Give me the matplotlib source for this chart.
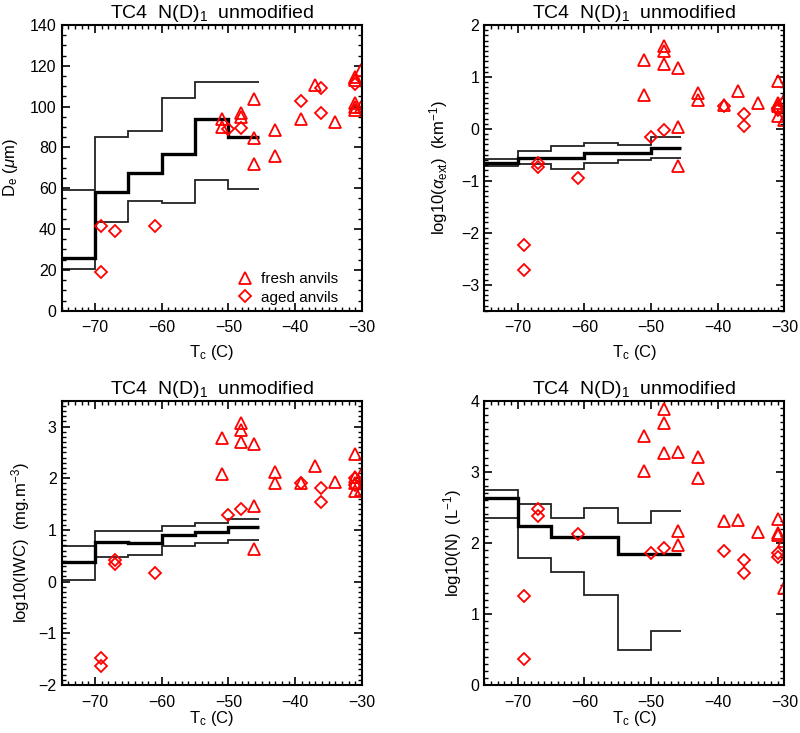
import matplotlib
matplotlib.use("Agg")
import matplotlib.pyplot as plt
from matplotlib.ticker import MultipleLocator

plt.rcParams['font.family'] = ['Liberation Sans', 'DejaVu Sans']
plt.rcParams['mathtext.fontset'] = 'custom'
plt.rcParams['mathtext.rm'] = 'Liberation Sans'
plt.rcParams['mathtext.it'] = 'Liberation Sans:italic'

# ---------------- data ----------------
bin_edges = [-75, -70, -65, -60, -55, -50, -45.5]

de_upper = [59, 85.3, 88, 104, 112.3, 112.3]
de_median = [25.7, 58, 67.3, 76.8, 94.1, 85]
de_lower = [20.3, 43.6, 53.8, 52.6, 64, 59.5]
de_fresh_t = [-46.1, -48.1, -48.1, -51.0, -51.0, -46.1, -46.1, -43.1, -43.1, -39.1,
              -37.1, -34.1, -31.1, -31.1, -31.1, -31.1, -31.1, -30.1, -30.1]
de_fresh = [103.8, 96.7, 94.8, 93.8, 89.9, 84.5, 71.9, 88.6, 75.8, 93.8,
            110.6, 92.6, 114.7, 113.1, 101.6, 100, 98.4, 118, 100]
de_aged_t = [-69.1, -69.1, -67.0, -61.0, -50.1, -48.1, -39.1, -36.1, -36.1, -31.1]
de_aged = [41.7, 18.8, 38.9, 41.7, 89.1, 89.4, 102.9, 109, 97.1, 111.1]

ext_upper = [-0.583, -0.423, -0.327, -0.263, -0.308, -0.160]
ext_median = [-0.647, -0.564, -0.564, -0.455, -0.468, -0.359]
ext_lower = [-0.712, -0.673, -0.769, -0.647, -0.596, -0.551]
ext_fresh_t = [-51.0, -51.0, -48.0, -48.0, -48.0, -46.0, -46.0, -46.0, -43.0, -43.0,
               -39.0, -37.0, -34.0, -31.0, -31.0, -31.0, -31.0, -30.1, -30.1]
ext_fresh = [1.327, 0.654, 1.596, 1.5, 1.244, 1.167, 0.045, -0.705, 0.699, 0.558,
             0.462, 0.731, 0.494, 0.923, 0.506, 0.442, 0.25, 0.56, 0.17]
ext_aged_t = [-69.0, -69.0, -67.0, -67.0, -61.0, -50.0, -48.0, -39.0, -36.0, -36.0, -31.0, -31.0]
ext_aged = [-2.231, -2.724, -0.66, -0.737, -0.936, -0.147, -0.019, 0.442, 0.282, 0.064, 0.41, 0.36]

iwc_upper = [0.682, 0.971, 0.98, 1.08, 1.13, 1.215]
iwc_median = [0.386, 0.759, 0.746, 0.894, 0.952, 1.055]
iwc_lower = [0.039, 0.469, 0.508, 0.695, 0.746, 0.797]
iwc_fresh_t = [-51.0, -51.0, -48.1, -48.1, -48.1, -46.1, -46.1, -46.1, -43.1, -43.1,
               -39.1, -37.1, -34.1, -31.1, -31.1, -31.1, -31.1, -30.1, -30.1]
iwc_fresh = [2.772, 2.077, 3.074, 2.932, 2.707, 2.656, 1.453, 0.630, 2.129, 1.916,
             1.916, 2.238, 1.936, 2.463, 2.019, 1.904, 1.743, 2.06, 1.77]
iwc_aged_t = [-69.1, -69.1, -67.0, -67.0, -61.0, -50.1, -48.1, -39.1, -36.1, -36.1, -31.1, -31.1]
iwc_aged = [-1.473, -1.633, 0.424, 0.334, 0.167, 1.28, 1.408, 1.916, 1.807, 1.537, 2.0, 1.87]

n_upper = [2.743, 2.551, 2.354, 2.485, 2.274, 2.448]
n_median = [2.635, 2.237, 2.082, 2.082, 1.843, 1.843]
n_lower = [2.354, 1.782, 1.594, 1.266, 0.492, 0.764]
n_fresh_t = [-51.0, -51.0, -48.0, -48.0, -48.0, -46.0, -46.0, -46.0, -43.0, -43.0,
             -39.0, -37.0, -34.0, -31.0, -31.0, -31.0, -30.1, -30.1]
n_fresh = [3.508, 3.011, 3.883, 3.691, 3.268, 3.278, 2.166, 1.969, 3.212, 2.907,
           2.312, 2.321, 2.148, 2.331, 2.134, 2.11, 2.03, 1.37]
n_aged_t = [-69.0, -69.0, -67.0, -67.0, -61.0, -50.0, -48.0, -39.0, -36.0, -36.0, -31.0, -31.0]
n_aged = [1.252, 0.366, 2.476, 2.377, 2.124, 1.852, 1.932, 1.885, 1.758, 1.571, 1.862, 1.796]

title = r'TC4  N(D)$_1$  unmodified'
xlabel = r'T$_{\rm c}$ (C)'

panels = [
    dict(pos=[0.0769, 0.5761, 0.3756, 0.3898], ylim=(0, 140), major=20, minor=5,
         ylabel=r'D$_{\rm e}$ ($\mu$m)', up=de_upper, med=de_median, lo=de_lower,
         ft=de_fresh_t, fv=de_fresh, at=de_aged_t, av=de_aged, legend=True,
         ylab_x=-0.171, xlab_y=-0.145),
    dict(pos=[0.6054, 0.5761, 0.3750, 0.3898], ylim=(-3.5, 2), major=1, minor=0.1,
         ylabel=r'log10($\alpha_{\rm ext}$)  (km$^{-1}$)', up=ext_upper, med=ext_median, lo=ext_lower,
         ft=ext_fresh_t, fv=ext_fresh, at=ext_aged_t, av=ext_aged, legend=False,
         ylab_x=-0.154, xlab_y=-0.145),
    dict(pos=[0.0769, 0.0655, 0.3756, 0.3879], ylim=(-2, 3.5), major=1, minor=0.1,
         ylabel=r'log10(IWC)  (mg.m$^{-3}$)', up=iwc_upper, med=iwc_median, lo=iwc_lower,
         ft=iwc_fresh_t, fv=iwc_fresh, at=iwc_aged_t, av=iwc_aged, legend=False,
         ylab_x=-0.136, xlab_y=-0.117),
    dict(pos=[0.6054, 0.0655, 0.3750, 0.3879], ylim=(0, 4), major=1, minor=0.1,
         ylabel=r'log10(N)  (L$^{-1}$)', up=n_upper, med=n_median, lo=n_lower,
         ft=n_fresh_t, fv=n_fresh, at=n_aged_t, av=n_aged, legend=False,
         ylab_x=-0.106, xlab_y=-0.117),
]

fig = plt.figure(figsize=(8.0, 7.33), dpi=100)

for p in panels:
    ax = fig.add_axes(p['pos'])
    ax.stairs(p['up'], bin_edges, baseline=None, color='#222222', lw=1.3)
    ax.stairs(p['lo'], bin_edges, baseline=None, color='#222222', lw=1.3)
    ax.stairs(p['med'], bin_edges, baseline=None, color='black', lw=2.4)
    ax.plot(p['ft'], p['fv'], linestyle='none', marker='^', ms=9, mfc='none',
            mec='red', mew=1.3, label='fresh anvils')
    ax.plot(p['at'], p['av'], linestyle='none', marker='D', ms=6.5, mfc='none',
            mec='red', mew=1.3, label='aged anvils')
    ax.set_xlim(-75, -30)
    ax.set_ylim(*p['ylim'])
    ax.xaxis.set_major_locator(MultipleLocator(10))
    ax.xaxis.set_minor_locator(MultipleLocator(1))
    ax.yaxis.set_major_locator(MultipleLocator(p['major']))
    ax.yaxis.set_minor_locator(MultipleLocator(p['minor']))
    ax.tick_params(which='both', direction='in', top=True, right=True, labelsize=11.5)
    ax.tick_params(which='major', length=6, width=1.2)
    ax.tick_params(axis='x', which='major', pad=7)
    ax.tick_params(which='minor', length=3, width=1.0)
    for s in ax.spines.values():
        s.set_linewidth(1.5)
    ax.set_title(title, fontsize=14, pad=5)
    ax.set_xlabel(xlabel, fontsize=12)
    ax.xaxis.set_label_coords(0.5, p['xlab_y'])
    ax.xaxis.label.set_verticalalignment('center')
    ax.set_ylabel(p['ylabel'], fontsize=12)
    ax.yaxis.set_label_coords(p['ylab_x'], 0.5)
    ax.yaxis.label.set_verticalalignment('center')
    if p['legend']:
        ax.legend(loc='lower right', bbox_to_anchor=(0.94, 0.0), frameon=False,
                  fontsize=11, handlelength=1.0, handletextpad=0.5,
                  borderaxespad=0.0, labelspacing=0.3)

fig.savefig('out.png', dpi=100)
